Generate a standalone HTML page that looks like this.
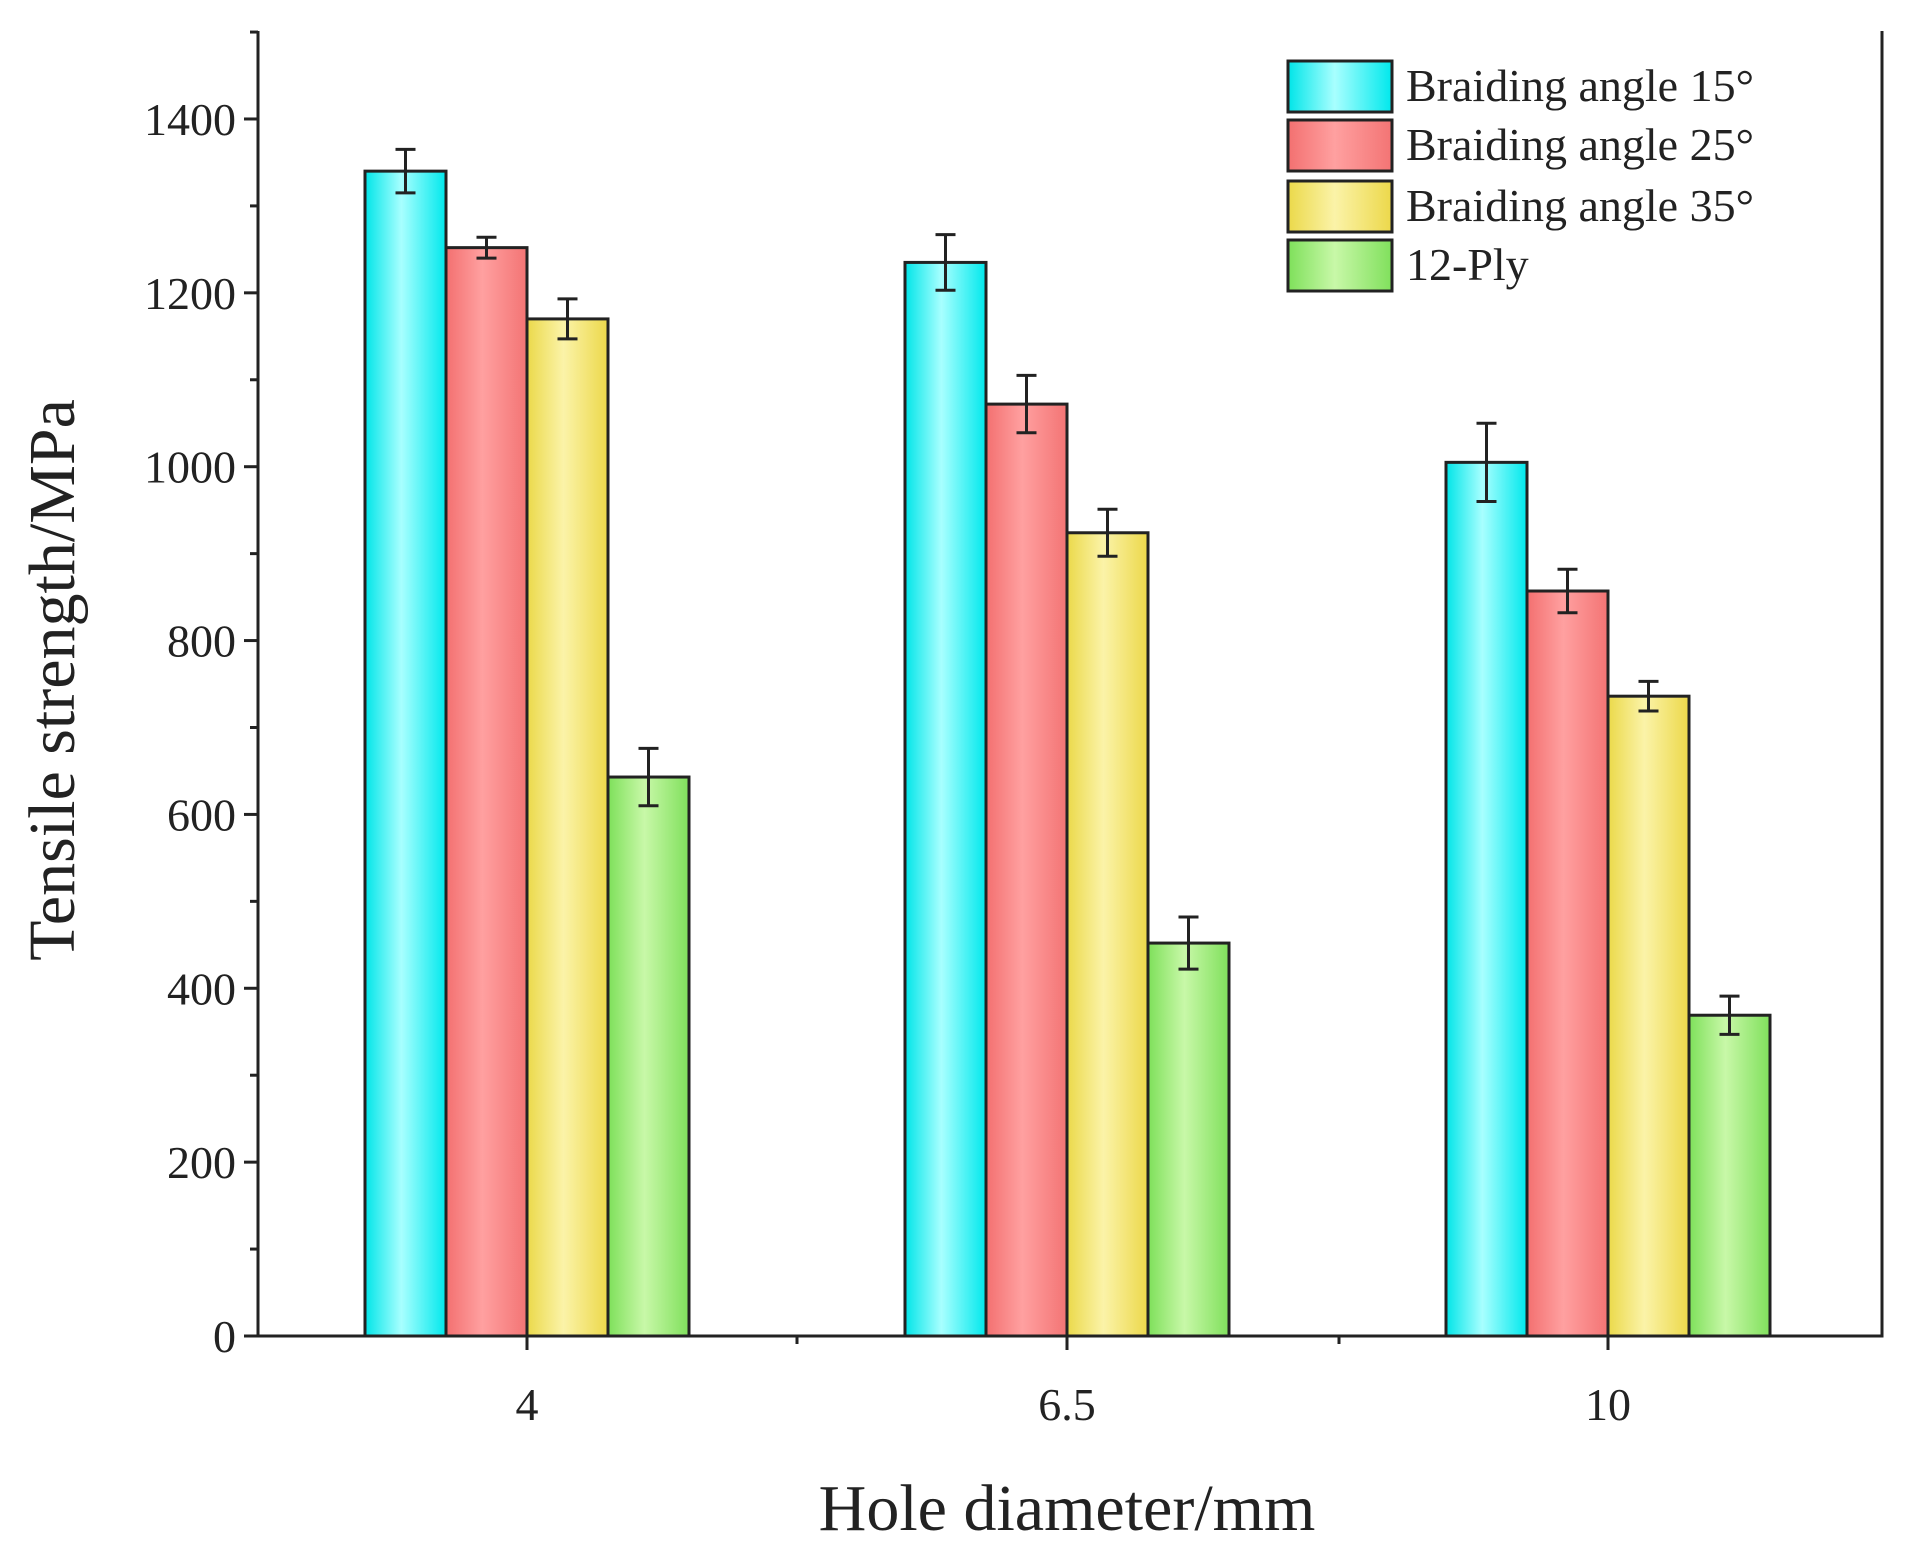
<!DOCTYPE html>
<html><head><meta charset="utf-8"><style>
html,body{margin:0;padding:0;background:#fff;width:1922px;height:1557px;overflow:hidden}
text{font-family:"Liberation Serif",serif;fill:#222}
</style></head><body>
<svg id="s" width="1922" height="1557" xmlns="http://www.w3.org/2000/svg">
<defs>
<linearGradient id="gc" x1="0" x2="1"><stop offset="0" stop-color="#00e5e8"/><stop offset="0.45" stop-color="#a8ffff"/><stop offset="1" stop-color="#00e8ec"/></linearGradient>
<linearGradient id="gr" x1="0" x2="1"><stop offset="0" stop-color="#f37070"/><stop offset="0.45" stop-color="#ffa0a0"/><stop offset="1" stop-color="#f37474"/></linearGradient>
<linearGradient id="gy" x1="0" x2="1"><stop offset="0" stop-color="#ebd94a"/><stop offset="0.45" stop-color="#fbf3a8"/><stop offset="1" stop-color="#ecd84a"/></linearGradient>
<linearGradient id="gg" x1="0" x2="1"><stop offset="0" stop-color="#7ee05a"/><stop offset="0.45" stop-color="#c8f8a8"/><stop offset="1" stop-color="#80e05c"/></linearGradient>
</defs>
</svg>
<script>
const s=document.getElementById('s');let h='';
const L=258,R=1882,T=31,B=1336;const y=v=>B-0.8693*v;
const fills=['url(#gc)','url(#gr)','url(#gy)','url(#gg)'];
const data=[[[1340,25],[1252,12],[1170,23],[643,33]],[[1235,32],[1072,33],[924,27],[452,30]],[[1005,45],[857,25],[736,17],[369,22]]];
const cs=[527,1067,1608],w=81;
data.forEach((g,i)=>g.forEach(([v,e],j)=>{const x=cs[i]-2*w+j*w;
h+=`<rect x="${x}" y="${y(v)}" width="${w}" height="${B-y(v)}" fill="${fills[j]}" stroke="#222" stroke-width="3"/>`;
const cx=x+w/2;h+=`<path d="M${cx} ${y(v+e)}V${y(v-e)}M${cx-10} ${y(v+e)}H${cx+10}M${cx-10} ${y(v-e)}H${cx+10}" stroke="#222" stroke-width="3" fill="none"/>`;}));
h+=`<path d="M${L} ${T}V${B}H${R}V${T}" stroke="#222" stroke-width="3" fill="none"/>`;
for(let v=0;v<=1500;v+=100){const yy=y(v);if(yy<T)break;const big=v%200==0;h+=`<line x1="${L-(big?14:8)}" x2="${L}" y1="${yy}" y2="${yy}" stroke="#222" stroke-width="3"/>`;
if(big)h+=`<text x="${L-22}" y="${yy+16}" font-size="46" text-anchor="end">${v}</text>`;}
cs.forEach((x,i)=>{h+=`<line x1="${x}" x2="${x}" y1="${B}" y2="${B+14}" stroke="#222" stroke-width="3"/><text x="${x}" y="${B+84}" font-size="46" text-anchor="middle">${['4','6.5','10'][i]}</text>`});
[797,1339].forEach(x=>h+=`<line x1="${x}" x2="${x}" y1="${B}" y2="${B+8}" stroke="#222" stroke-width="3"/>`);
h+=`<text x="1067" y="1530" font-size="66" text-anchor="middle">Hole diameter/mm</text>`;
h+=`<text transform="translate(74 680) rotate(-90)" font-size="66" text-anchor="middle">Tensile strength/MPa</text>`;
const ly=[61,120,181,240],lab=['Braiding angle 15°','Braiding angle 25°','Braiding angle 35°','12-Ply'];
ly.forEach((yy,j)=>{h+=`<rect x="1288" y="${yy}" width="104" height="51" fill="${fills[j]}" stroke="#222" stroke-width="3"/><text x="1406" y="${yy+40}" font-size="46">${lab[j]}</text>`});
s.innerHTML+=h;
</script>
</body></html>
